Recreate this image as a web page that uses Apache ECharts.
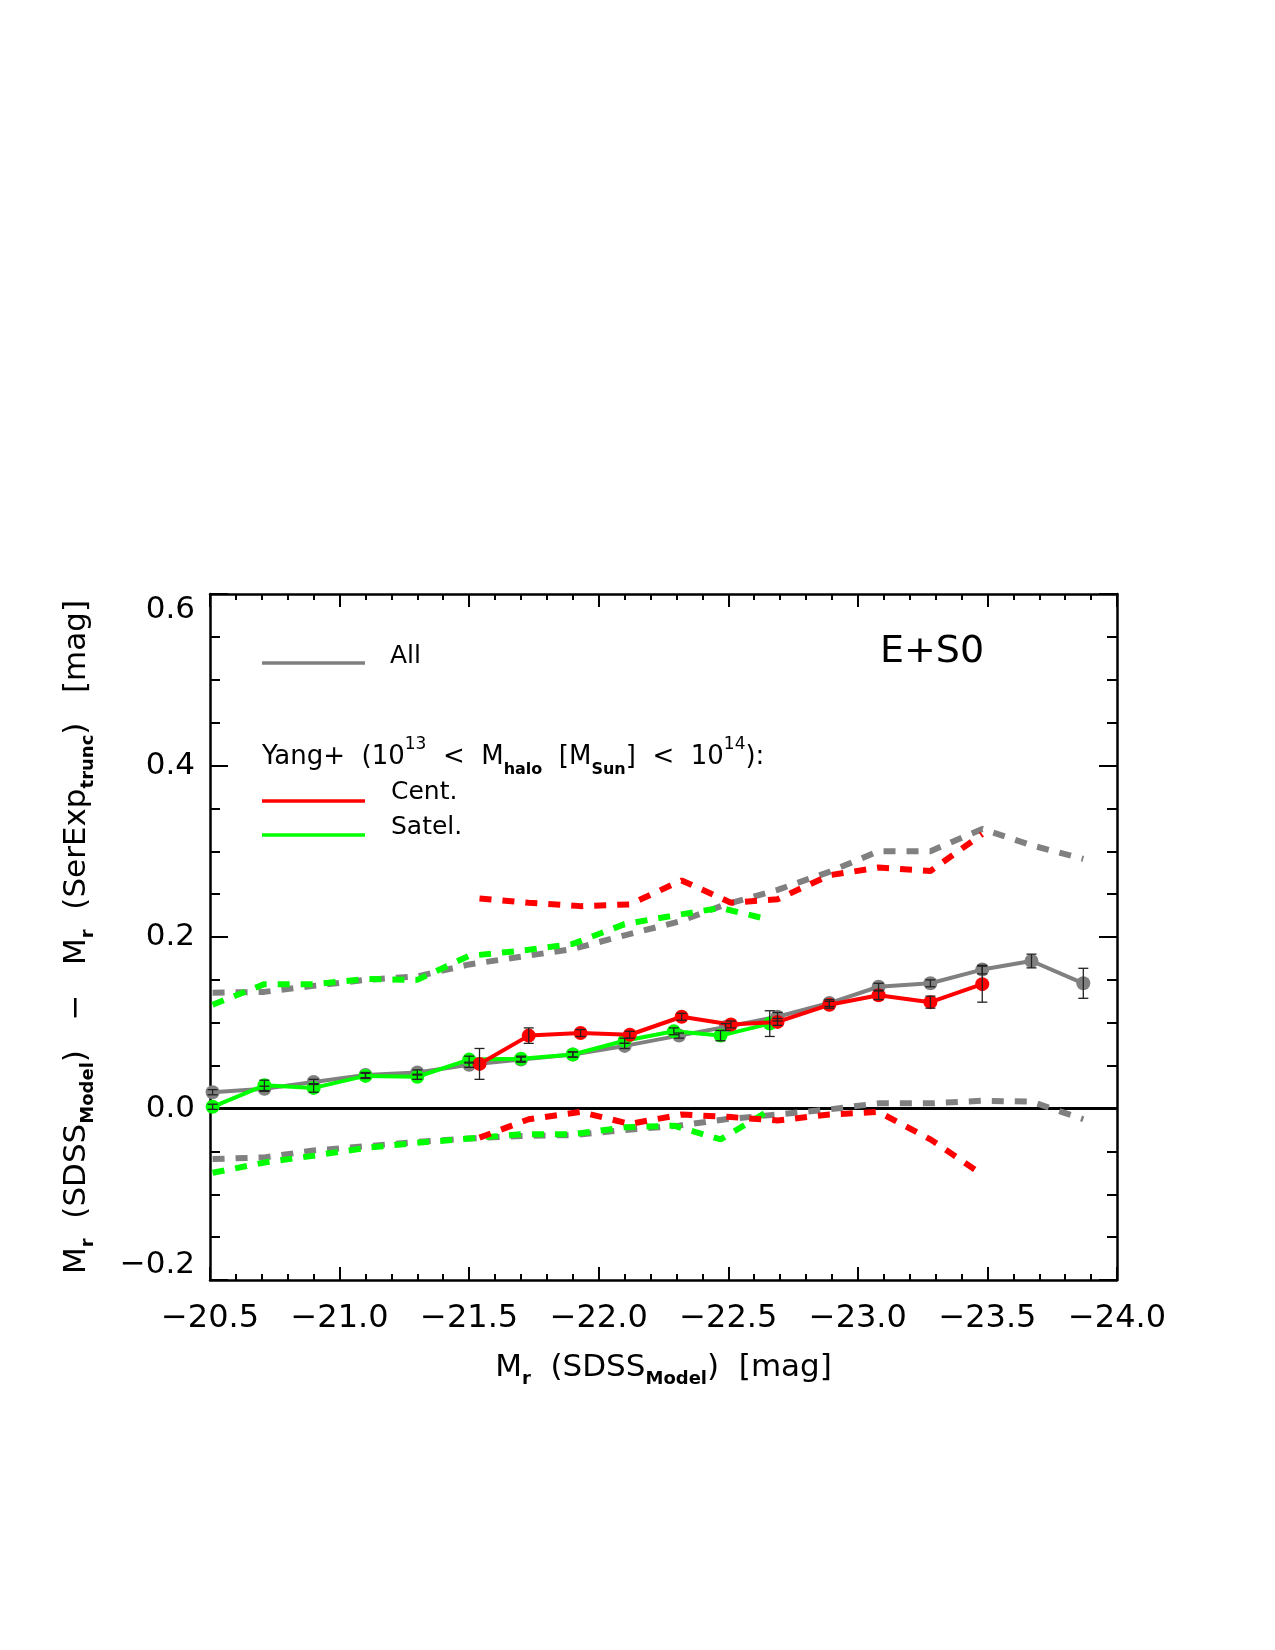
<!DOCTYPE html>
<html><head><meta charset="utf-8">
<script src="https://cdn.jsdelivr.net/npm/echarts@6/dist/echarts.min.js"></script>
<style>html,body{margin:0;padding:0;background:#fff}#c{width:1275px;height:1650px}</style>
</head><body><div id="c"></div>
<script>
// ---- data ----
const xTickValues = [-20.5, -21.0, -21.5, -22.0, -22.5, -23.0, -23.5, -24.0];
const yTickValues = [-0.2, 0.0, 0.2, 0.4, 0.6];

const xAll   = [-20.51, -20.71, -20.90, -21.10, -21.30, -21.50, -21.70, -21.90, -22.10, -22.31, -22.49, -22.69, -22.89, -23.08, -23.28, -23.48, -23.67, -23.87];
const yAll   = [0.019, 0.023, 0.031, 0.039, 0.042, 0.051, 0.057, 0.063, 0.073, 0.085, 0.095, 0.107, 0.123, 0.142, 0.146, 0.162, 0.172, 0.146];
const errAll = [0.003, 0.003, 0.003, 0.003, 0.003, 0.003, 0.003, 0.003, 0.003, 0.003, 0.004, 0.005, 0.004, 0.004, 0.004, 0.005, 0.008, 0.0175];
const upAll  = [0.135, 0.136, 0.143, 0.150, 0.154, 0.168, 0.177, 0.186, 0.202, 0.218, 0.238, 0.255, 0.276, 0.300, 0.300, 0.326, 0.307, 0.291];
const loAll  = [-0.059, -0.057, -0.049, -0.044, -0.039, -0.035, -0.032, -0.031, -0.025, -0.020, -0.0125, -0.007, -0.001, 0.006, 0.006, 0.009, 0.008, -0.0125];

const xSat   = [-20.51, -20.71, -20.90, -21.10, -21.30, -21.50, -21.70, -21.90, -22.10, -22.29, -22.47, -22.66];
const ySat   = [0.002, 0.027, 0.024, 0.038, 0.037, 0.057, 0.058, 0.063, 0.079, 0.090, 0.085, 0.099];
const errSat = [0.003, 0.006, 0.005, 0.003, 0.003, 0.004, 0.003, 0.003, 0.003, 0.004, 0.006, 0.015];
const upSat  = [0.121, 0.145, 0.145, 0.151, 0.150, 0.178, 0.184, 0.192, 0.215, 0.225, 0.234, 0.220];
const loSat  = [-0.075, -0.063, -0.055, -0.046, -0.040, -0.035, -0.030, -0.030, -0.022, -0.020, -0.036, -0.002];

const xCen   = [-21.54, -21.73, -21.93, -22.12, -22.32, -22.51, -22.69, -22.89, -23.08, -23.28, -23.48];
const yCen   = [0.052, 0.085, 0.088, 0.086, 0.107, 0.098, 0.101, 0.121, 0.132, 0.124, 0.145];
const errCen = [0.018, 0.009, 0.004, 0.004, 0.004, 0.004, 0.004, 0.004, 0.005, 0.007, 0.021];
const upCen  = [0.245, 0.240, 0.236, 0.238, 0.266, 0.240, 0.244, 0.272, 0.281, 0.277, 0.320];
const loCen  = [-0.034, -0.0125, -0.004, -0.018, -0.007, -0.010, -0.014, -0.007, -0.004, -0.036, -0.077];

const zeroLine = [[-24.0, 0], [-20.5, 0]];

// ---- styling ----
const FONT = '"DejaVu Sans", "Liberation Sans", sans-serif';
const GRAY = '#808080', RED = '#ff0000', GREEN = '#00ff00';
const pairs = (xs, ys) => xs.map((x, i) => [x, ys[i]]);
const fmtMinus = v => (v < 0 ? '\u2212' : '') + Math.abs(v).toFixed(1);

function axisCommon(pos, isX, showLabel) {
  return {
    position: pos,
    axisLine: { show: true, onZero: false, lineStyle: { color: '#000', width: 2.5 } },
    axisTick: { show: true, inside: true, length: isX ? 13 : 18, lineStyle: { color: '#000', width: 2 } },
    minorTick: { show: true, splitNumber: isX ? 5 : 4, length: isX ? 6 : 10, lineStyle: { color: '#000', width: 2 } },
    splitLine: { show: false },
    minorSplitLine: { show: false },
    axisLabel: showLabel ? {
      show: true, fontFamily: FONT, fontSize: isX ? 32 : 31, color: '#000', margin: isX ? 23 : 15,
      formatter: fmtMinus,
      verticalAlignMinLabel: isX ? undefined : 'bottom',
      verticalAlignMaxLabel: isX ? undefined : 'top'
    } : { show: false }
  };
}

const subRich = {
  m: { fontFamily: FONT, fontSize: 31, lineHeight: 40, color: '#000' },
  s: { fontFamily: FONT, fontSize: 18, fontWeight: 'bold', lineHeight: 20, verticalAlign: 'bottom', color: '#000' }
};

function errSeries(name, xs, ys, es, color) {
  return {
    type: 'custom', name: name, z: 20, silent: true,
    data: xs.map((x, i) => [x, ys[i] - es[i], ys[i] + es[i]]),
    renderItem: function (params, api) {
      const lo = api.coord([api.value(0), api.value(1)]);
      const hi = api.coord([api.value(0), api.value(2)]);
      const w = 5;
      const st = { stroke: color, lineWidth: 1.3 };
      return { type: 'group', children: [
        { type: 'line', shape: { x1: lo[0], y1: lo[1], x2: hi[0], y2: hi[1] }, style: st },
        { type: 'line', shape: { x1: lo[0] - w, y1: lo[1], x2: lo[0] + w, y2: lo[1] }, style: st },
        { type: 'line', shape: { x1: hi[0] - w, y1: hi[1], x2: hi[0] + w, y2: hi[1] }, style: st }
      ] };
    }
  };
}

function dashed(name, xs, ys, color, z) {
  return { type: 'line', name: name, data: pairs(xs, ys), symbol: 'none', z: z, silent: true,
    lineStyle: { color: color, width: 6, type: [12, 11], cap: 'butt' } };
}
function solid(name, xs, ys, color, z) {
  return { type: 'line', name: name, data: pairs(xs, ys), symbol: 'circle', symbolSize: 14, z: z, silent: true,
    itemStyle: { color: color }, lineStyle: { color: color, width: 4 } };
}

const option = {
  backgroundColor: '#fff',
  animation: false,
  grid: { left: 210, right: 158, top: 594, bottom: 370, containLabel: false },
  xAxis: [
    Object.assign({ type: 'value', min: -24, max: -20.5, interval: 0.5, inverse: true,
      name: '{m|M}{s|r}{m|  (SDSS}{s|Model}{m|)  [mag]}', nameLocation: 'middle', nameGap: 68,
      nameTextStyle: { rich: subRich } }, axisCommon('bottom', true, true)),
    Object.assign({ type: 'value', min: -24, max: -20.5, interval: 0.5, inverse: true }, axisCommon('top', true, false))
  ],
  yAxis: [
    Object.assign({ type: 'value', min: -0.2, max: 0.6, interval: 0.2,
      name: '{m|M}{s|r}{m|  (SDSS}{s|Model}{m|)   \u2212   M}{s|r}{m|  (SerExp}{s|trunc}{m|)   [mag]}',
      nameLocation: 'middle', nameGap: 113, nameTextStyle: { rich: subRich } }, axisCommon('left', false, true)),
    Object.assign({ type: 'value', min: -0.2, max: 0.6, interval: 0.2 }, axisCommon('right', false, false))
  ],
  graphic: [
    { type: 'line', shape: { x1: 262, y1: 663, x2: 365, y2: 663 }, style: { stroke: GRAY, lineWidth: 3.5 } },
    { type: 'text', x: 390, y: 656, style: { text: 'All', font: '25px ' + FONT, fill: '#000', verticalAlign: 'middle' } },
    { type: 'text', x: 262, y: 757, style: {
        text: '{t|Yang+  (10}{p|13}{t|  <  M}{b|halo}{t|  [M}{b|Sun}{t|]  <  10}{p|14}{t|):}',
        verticalAlign: 'middle',
        rich: {
          t: { fontFamily: FONT, fontSize: 26, lineHeight: 42, fill: '#000' },
          p: { fontFamily: FONT, fontSize: 17, lineHeight: 18, verticalAlign: 'top', fill: '#000' },
          b: { fontFamily: FONT, fontSize: 16, fontWeight: 'bold', lineHeight: 22, verticalAlign: 'bottom', fill: '#000' }
        } } },
    { type: 'line', shape: { x1: 262, y1: 801, x2: 365, y2: 801 }, style: { stroke: RED, lineWidth: 3.5 } },
    { type: 'text', x: 391, y: 792, style: { text: 'Cent.', font: '25px ' + FONT, fill: '#000', verticalAlign: 'middle' } },
    { type: 'line', shape: { x1: 262, y1: 835, x2: 365, y2: 835 }, style: { stroke: GREEN, lineWidth: 3.5 } },
    { type: 'text', x: 391, y: 827, style: { text: 'Satel.', font: '25px ' + FONT, fill: '#000', verticalAlign: 'middle' } },
    { type: 'text', x: 880, y: 652, style: { text: 'E+S0', font: '38px ' + FONT, fill: '#000', verticalAlign: 'middle' } }
  ],
  series: [
    { type: 'line', name: 'zero', data: zeroLine, symbol: 'none', z: 1, silent: true, lineStyle: { color: '#000', width: 3 } },
    dashed('All upper', xAll, upAll, GRAY, 2),
    dashed('All lower', xAll, loAll, GRAY, 2),
    dashed('Satel. upper', xSat, upSat, GREEN, 3),
    dashed('Satel. lower', xSat, loSat, GREEN, 3),
    dashed('Cent. upper', xCen, upCen, RED, 4),
    dashed('Cent. lower', xCen, loCen, RED, 4),
    solid('All', xAll, yAll, GRAY, 5),
    solid('Satel.', xSat, ySat, GREEN, 6),
    solid('Cent.', xCen, yCen, RED, 7),
    errSeries('All err', xAll, yAll, errAll, '#222'),
    errSeries('Satel. err', xSat, ySat, errSat, '#222'),
    errSeries('Cent. err', xCen, yCen, errCen, '#222')
  ]
};

const chart = echarts.init(document.getElementById('c'), null, { renderer: 'canvas' });
chart.setOption(option);
</script>
</body></html>
